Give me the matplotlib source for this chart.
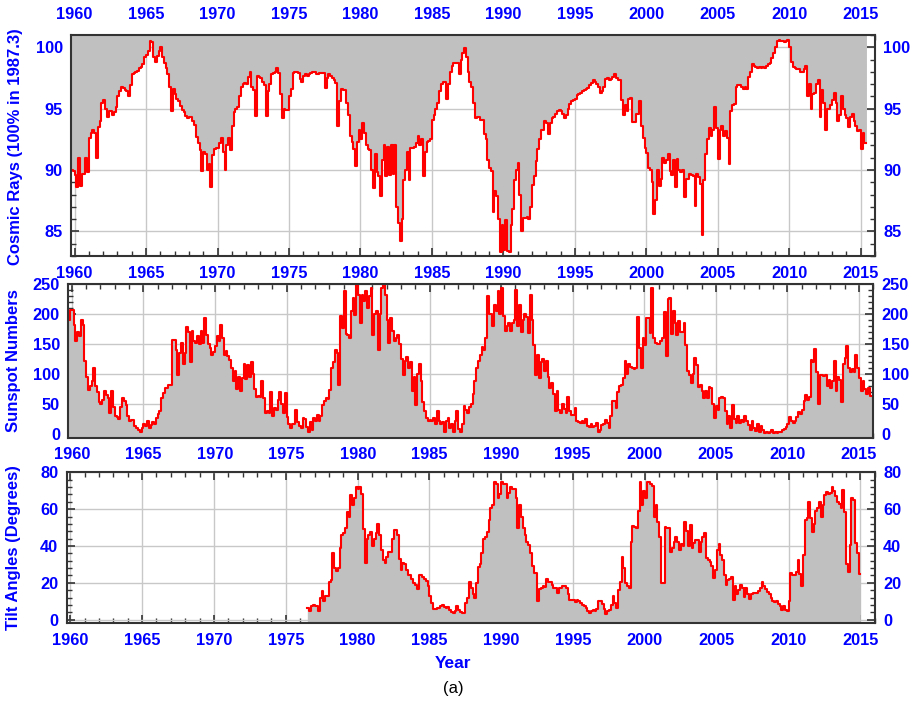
# Rayos cósmicos, manchas solares y ángulo de inclinación de la lámina de corriente (1960-2015)
import numpy as np
import matplotlib
matplotlib.use('Agg')
import matplotlib.pyplot as plt
from matplotlib.ticker import MultipleLocator

# Valores cada 1/8 de año (8 valores por fila = un año)
paso = 1 / 8

inicio_rc = 1959.75
fin_rc = 2015.4
rayos_cosmicos = [
    90.0, 89.9,
    89.6, 88.6, 91.0, 88.7, 89.7, 89.7, 91.0, 89.8,   # 1960
    92.6, 93.0, 93.3, 93.0, 91.0, 93.5, 94.0, 95.5,
    95.7, 95.0, 94.3, 94.8, 94.8, 94.5, 94.7, 95.1,
    96.0, 96.4, 96.8, 96.7, 96.5, 96.4, 96.0, 96.9,
    97.8, 97.9, 98.0, 98.1, 98.3, 98.4, 98.6, 99.2,
    99.4, 99.7, 100.5, 100.4, 99.2, 98.8, 99.3, 99.7,   # 1965
    100.0, 99.2, 98.7, 98.3, 97.8, 96.8, 94.8, 96.6,
    96.2, 95.8, 95.6, 95.2, 94.9, 94.7, 94.4, 94.2,
    94.3, 94.3, 94.0, 93.7, 92.7, 92.2, 91.6, 89.9,
    91.5, 91.3, 90.0, 90.5, 88.6, 91.2, 91.7, 91.8,
    91.8, 92.2, 92.6, 91.5, 90.0, 92.0, 92.6, 91.6,   # 1970
    93.6, 94.7, 95.0, 95.1, 96.0, 96.8, 97.0, 97.1,
    97.0, 97.6, 98.0, 96.8, 96.5, 94.4, 97.7, 97.6,
    97.5, 97.2, 96.9, 94.4, 96.4, 97.0, 97.8, 97.9,
    98.0, 98.3, 97.9, 96.2, 94.2, 95.0, 94.9, 94.9,
    96.0, 96.6, 97.9, 98.0, 98.0, 97.9, 97.4, 97.2,   # 1975
    97.7, 97.8, 97.7, 97.8, 97.9, 98.0, 98.0, 97.8,
    97.8, 97.9, 97.9, 97.9, 96.7, 97.5, 97.8, 97.7,
    97.5, 97.3, 97.1, 93.6, 95.6, 96.6, 96.5, 96.5,
    95.5, 94.5, 92.8, 92.3, 91.7, 90.3, 92.3, 93.3,
    92.5, 93.8, 93.0, 92.0, 91.7, 91.6, 90.0, 88.5,   # 1980
    91.3, 89.8, 89.5, 87.9, 90.8, 92.0, 89.5, 91.9,
    89.6, 92.0, 89.7, 92.0, 87.0, 85.7, 84.2, 86.0,
    89.2, 90.0, 91.5, 89.2, 91.8, 91.8, 91.9, 92.2,
    92.8, 92.0, 92.5, 89.5, 91.5, 92.3, 92.4, 92.5,
    94.1, 94.5, 95.0, 95.5, 96.4, 97.0, 97.2, 97.2,   # 1985
    95.8, 97.0, 98.0, 98.5, 98.7, 98.7, 98.7, 97.8,
    99.0, 99.5, 99.9, 99.2, 98.0, 97.2, 96.8, 95.5,
    94.2, 94.3, 94.3, 94.1, 94.1, 92.9, 92.5, 90.8,
    90.2, 89.9, 86.6, 88.3, 87.9, 86.0, 83.3, 85.5,
    83.5, 85.9, 83.4, 83.3, 85.5, 86.8, 89.2, 90.0,   # 1990
    90.6, 88.0, 85.0, 86.1, 86.1, 86.2, 86.0, 87.0,
    88.8, 89.5, 90.7, 91.7, 92.5, 93.3, 93.3, 94.0,
    93.8, 92.9, 93.8, 94.2, 94.3, 94.6, 94.8, 94.9,
    94.8, 94.6, 94.2, 94.5, 95.0, 95.4, 95.6, 95.7,
    95.8, 96.1, 96.2, 96.3, 96.4, 96.5, 96.6, 96.7,   # 1995
    96.9, 97.1, 97.3, 97.2, 97.0, 96.8, 96.3, 96.4,
    96.8, 97.4, 97.5, 97.3, 97.4, 97.6, 97.8, 97.5,
    97.3, 97.3, 95.7, 94.5, 95.3, 94.8, 95.8, 95.9,
    93.9, 93.9, 94.6, 94.6, 95.6, 93.6, 92.6, 91.8,
    91.4, 90.2, 90.0, 89.0, 86.4, 87.6, 90.0, 88.7,   # 2000
    89.3, 91.0, 90.6, 90.8, 91.3, 89.9, 89.6, 90.8,
    88.6, 90.9, 90.0, 89.8, 90.0, 87.8, 89.3, 89.3,
    89.7, 89.6, 89.5, 87.1, 89.7, 89.4, 88.9, 84.7,
    89.2, 91.3, 92.5, 93.4, 92.8, 93.3, 95.1, 93.4,
    90.9, 93.3, 93.6, 92.8, 93.2, 92.6, 90.5, 94.8,   # 2005
    95.3, 95.4, 96.8, 96.9, 96.9, 96.8, 96.6, 96.8,
    96.6, 97.6, 98.0, 98.6, 98.5, 98.4, 98.3, 98.4,
    98.3, 98.4, 98.3, 98.5, 98.6, 98.7, 99.1, 99.5,
    100.0, 100.5, 100.6, 100.5, 100.5, 100.4, 100.5, 100.6,
    100.0, 98.8, 98.4, 98.3, 98.2, 98.2, 98.0, 98.0,   # 2010
    98.2, 98.5, 96.0, 97.0, 95.0, 96.2, 96.3, 97.0,
    97.3, 94.3, 96.5, 95.5, 93.3, 95.0, 95.0, 95.3,
    95.7, 96.3, 95.5, 94.0, 94.5, 96.0, 95.0, 94.5,
    94.2, 93.5, 94.3, 94.6, 94.0, 93.6, 93.2, 93.3,
    91.7, 93.0, 92.2,                                  # 2015
]

inicio_manchas = 1959.75
fin_manchas = 2016.0
manchas_solares = [
    190, 207,
    207, 182, 155, 170, 163, 190, 182, 121,   # 1960
    95, 74, 80, 88, 110, 80, 70, 54,
    50, 56, 71, 65, 60, 35, 72, 45,
    30, 29, 25, 45, 60, 55, 49, 30,
    22, 24, 24, 13, 10, 7, 4, 10,
    16, 14, 21, 10, 15, 20, 16, 27,           # 1965
    33, 38, 60, 68, 77, 77, 82, 82,
    157, 157, 140, 99, 135, 152, 116, 135,
    179, 170, 120, 171, 155, 152, 163, 150,
    171, 152, 193, 165, 150, 143, 132, 136,
    146, 163, 155, 182, 160, 132, 138, 130,   # 1970
    124, 110, 88, 105, 75, 95, 72, 93,
    116, 92, 115, 95, 120, 100, 75, 62,
    63, 62, 88, 60, 35, 38, 35, 70,
    30, 43, 40, 57, 70, 50, 35, 68,
    29, 16, 10, 16, 16, 40, 20, 13,           # 1975
    10, 27, 25, 12, 4, 20, 7, 27,
    22, 32, 22, 30, 49, 55, 60, 58,
    74, 110, 120, 140, 135, 82, 196, 177,
    238, 166, 165, 160, 205, 227, 199, 249,
    232, 185, 232, 221, 238, 210, 230, 243,   # 1980
    165, 200, 205, 140, 200, 243, 249, 232,
    190, 152, 193, 171, 155, 160, 165, 150,
    125, 99, 121, 129, 110, 120, 71, 95,
    49, 100, 116, 88, 54, 38, 27, 22,
    24, 21, 27, 16, 38, 21, 16, 20,           # 1985
    4, 21, 27, 10, 16, 4, 21, 38,
    8, 4, 16, 46, 40, 35, 45, 50,
    66, 88, 110, 121, 132, 145, 140, 160,
    230, 200, 200, 180, 215, 205, 238, 200,
    243, 196, 171, 180, 185, 171, 185, 190,   # 1990
    240, 180, 215, 170, 190, 200, 195, 168,
    232, 190, 149, 99, 132, 93, 120, 125,
    105, 121, 95, 77, 85, 66, 38, 71,
    40, 35, 50, 42, 35, 62, 38, 32,
    32, 43, 21, 20, 19, 21, 19, 25,           # 1995
    14, 11, 17, 11, 14, 18, 4, 7,
    15, 17, 24, 18, 10, 30, 55, 55,
    43, 70, 80, 82, 93, 121, 100, 116,
    112, 110, 108, 110, 195, 143, 110, 160,
    149, 193, 193, 168, 243, 160, 152, 150,   # 2000
    150, 155, 160, 204, 130, 225, 227, 166,
    205, 185, 165, 188, 170, 170, 185, 149,
    105, 99, 85, 100, 127, 115, 79, 82,
    72, 60, 72, 60, 78, 76, 50, 27,
    46, 40, 60, 62, 60, 38, 16, 30,           # 2005
    10, 49, 25, 18, 30, 18, 24, 20,
    30, 22, 15, 7, 21, 10, 5, 16,
    4, 14, 7, 2, 4, 2, 4, 7,
    2, 4, 2, 4, 4, 7, 8, 12,
    16, 29, 21, 18, 21, 29, 36, 33,           # 2010
    40, 55, 65, 57, 62, 124, 120, 141,
    104, 50, 99, 99, 96, 98, 80, 90,
    77, 88, 121, 71, 95, 90, 54, 116,
    127, 146, 110, 104, 108, 104, 132, 110,
    93, 71, 88, 75, 66, 77, 63, 63,           # 2015
]

inicio_incl = 1976.5
fin_incl = 2015.0
angulos_incl = [
    6.3, 4.5, 7.2, 7.7,
    7.2, 7.2, 4.5, 12, 15.3, 10, 12.6, 12.8,        # 1977
    20.7, 21.5, 36, 28, 26.5, 28, 38.7, 46,
    47, 49.5, 58.6, 56, 67.6, 62, 66, 72,
    71, 72, 68, 49, 31, 44, 46, 47.5,              # 1980
    40, 44, 47, 52, 46, 38, 32.5, 31,
    34, 37, 37, 44, 48.6, 48.6, 46, 33,
    27, 31, 30, 27, 24.5, 24.5, 22, 20,
    19, 16.5, 24.3, 24, 23, 22, 21, 18,
    13, 9, 6, 6, 6.3, 6.3, 7.2, 8,                 # 1985
    7, 6.3, 7, 5.5, 4, 3.6, 4.5, 7.2,
    5.5, 4, 3.6, 3.6, 9, 12, 20.7, 17,
    14, 12, 20, 28.5, 30, 36, 44, 45,
    47.7, 54, 60.4, 62, 74.8, 73.5, 66, 68,
    74.8, 73.5, 73.5, 66, 69, 72, 71, 71,          # 1990
    65.8, 50, 62, 56, 50, 46, 42, 40.5,
    36, 29, 25.5, 25.2, 10, 16.5, 17, 18,
    17.5, 22, 20.5, 20.7, 19, 17.2, 17, 14.5,
    17, 17, 18, 18, 17, 14, 10.8, 10.6,
    10.8, 9.5, 10.8, 10, 9.2, 8.2, 7.2, 6.3,       # 1995
    4.5, 3.6, 4.5, 5, 4.5, 6, 10, 10,
    8.5, 6, 3, 4.5, 5, 8, 12.6, 9,
    6.3, 16, 20.7, 34, 28, 20, 18, 17,
    42.3, 51, 50.5, 50, 59, 74.8, 62, 70,
    65.8, 74.8, 74.8, 73.9, 72.5, 55.9, 62, 53,    # 2000
    45, 19.8, 20, 50.5, 50, 50, 37, 39,
    42, 45, 42, 38, 41, 40, 53, 48,
    40, 51.4, 39, 41.4, 43, 43, 37, 42,
    45, 47, 33.5, 32.5, 31.5, 29, 22.5, 27,
    37.8, 41, 35, 32.4, 24, 19, 21.5, 22,          # 2005
    23.4, 10.5, 18, 14, 16, 19, 17, 12.5,
    17, 14, 11, 14, 14.4, 14.4, 14.4, 15.3,
    17, 20.5, 18.5, 16.5, 15, 14, 11.5, 10,
    9.5, 10, 8.5, 7.2, 5.4, 7.5, 5, 4.5,
    10, 25.2, 24.5, 24, 26, 32.4, 25, 18,          # 2010
    35, 54, 55, 64, 55, 47.7, 52, 59,
    60.4, 64, 55.9, 62, 67.6, 69.4, 68, 68.5,
    72, 70, 67, 64, 63, 60.5, 70.3, 58.6,
    30, 26, 40.5, 65.8, 64.9, 41.4, 36, 25,
]

anios_ticks = list(range(1960, 2016, 5))

AZUL = '#0000ff'
GRIS = '#c0c0c0'
ROJO = '#ff0000'


def escalones(inicio, fin, valores):
    """Devuelve los bordes temporales y los valores para dibujar en escalera."""
    t = inicio + paso * np.arange(len(valores))
    t = np.append(t, fin)
    v = np.append(np.asarray(valores, dtype=float), valores[-1])
    return t, v


def formato_ejes(ax, ylim, y_mayor, y_menor, etiquetas_arriba=False):
    ax.set_xlim(1959.75, 2016.0)
    ax.set_xticks(anios_ticks)
    ax.xaxis.set_minor_locator(MultipleLocator(1))
    ax.yaxis.set_major_locator(MultipleLocator(y_mayor))
    ax.yaxis.set_minor_locator(MultipleLocator(y_menor))
    ax.set_ylim(*ylim)
    ax.grid(which='major', color='#c8c8c8', linewidth=1.0, zorder=0)
    ax.set_axisbelow(True)
    ax.tick_params(which='both', direction='in', top=True, right=True,
                   labelright=True, color='#333333', labelcolor=AZUL,
                   labelsize=11.8)
    ax.tick_params(which='major', length=6, width=1.2)
    ax.tick_params(which='minor', length=3.5, width=1.0)
    ax.tick_params(axis='x', pad=7)
    ax.tick_params(axis='y', pad=6)
    for lado in ax.spines.values():
        lado.set_linewidth(1.5)
        lado.set_color('#333333')
    if etiquetas_arriba:
        # Años repetidos en la parte superior
        sec = ax.secondary_xaxis('top')
        sec.set_xticks(anios_ticks)
        sec.tick_params(length=0, pad=9.5, labelsize=11.8, labelcolor=AZUL)
        sec.spines['top'].set_visible(False)


def graficar():
    plt.rcParams['font.family'] = ['Liberation Sans', 'DejaVu Sans']
    plt.rcParams['font.weight'] = 'bold'

    fig = plt.figure(figsize=(9.15, 7.04), dpi=100)
    ax1 = fig.add_axes([0.0776, 0.6364, 0.8787, 0.3139])
    ax2 = fig.add_axes([0.0746, 0.3783, 0.8798, 0.2183])
    ax3 = fig.add_axes([0.0729, 0.1146, 0.8831, 0.2145])

    # Rayos cósmicos: relleno gris desde el borde superior hasta la curva
    t, v = escalones(inicio_rc, fin_rc, rayos_cosmicos)
    ax1.fill_between(t, v, 101, step='post', color=GRIS, linewidth=0, zorder=1)
    ax1.step(t, v, where='post', color=ROJO, linewidth=1.5, zorder=2)
    formato_ejes(ax1, (83, 101), 5, 1, etiquetas_arriba=True)

    # Número de manchas solares
    t, v = escalones(inicio_manchas, fin_manchas, manchas_solares)
    ax2.fill_between(t, v, -6, step='post', color=GRIS, linewidth=0, zorder=1)
    ax2.step(t, v, where='post', color=ROJO, linewidth=1.5, zorder=2)
    formato_ejes(ax2, (-6, 250), 50, 10)

    # Ángulo de inclinación
    t, v = escalones(inicio_incl, fin_incl, angulos_incl)
    ax3.fill_between(t, v, -2, step='post', color=GRIS, linewidth=0, zorder=1)
    ax3.step(t, v, where='post', color=ROJO, linewidth=1.5, zorder=2)
    formato_ejes(ax3, (-2, 80), 20, 4)

    # Títulos de los ejes
    fig.text(16 / 915, 1 - 147 / 704, 'Cosmic Rays (100% in 1987.3)', rotation=90,
             ha='center', va='center', color=AZUL, fontsize=12, fontweight='bold')
    fig.text(14 / 915, 1 - 361 / 704, 'Sunspot Numbers', rotation=90,
             ha='center', va='center', color=AZUL, fontsize=12, fontweight='bold')
    fig.text(14 / 915, 1 - 548 / 704, 'Tilt Angles (Degrees)', rotation=90,
             ha='center', va='center', color=AZUL, fontsize=12, fontweight='bold')
    fig.text(453 / 915, 1 - 664 / 704, 'Year', ha='center', va='center',
             color=AZUL, fontsize=12.5, fontweight='bold')
    fig.text(453 / 915, 1 - 689 / 704, '(a)', ha='center', va='center',
             color='black', fontsize=12, fontweight='normal')

    fig.savefig('out.png', dpi=100)


if __name__ == "__main__":
    graficar()
